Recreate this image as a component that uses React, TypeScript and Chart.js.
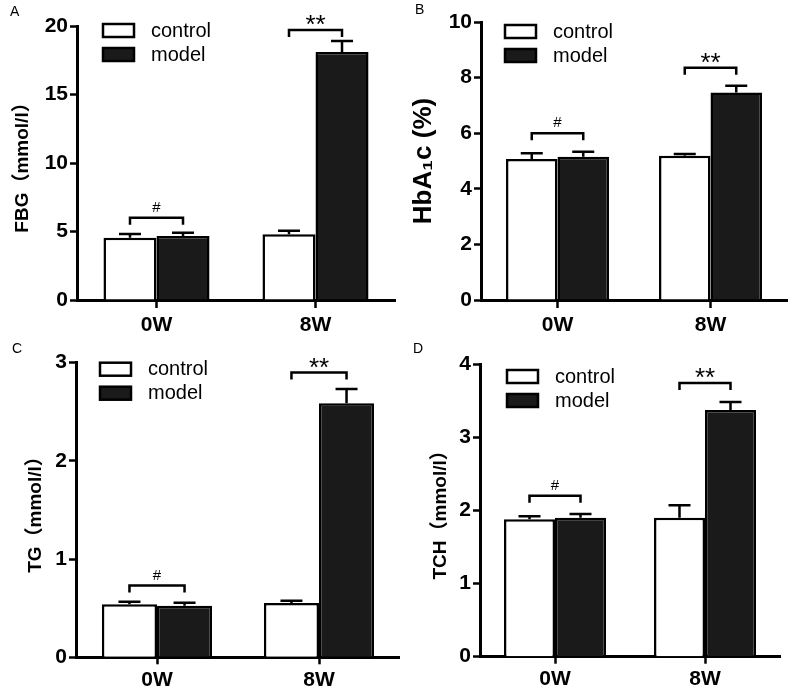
import React, { useEffect, useRef } from "react";
import { Chart, registerables } from "chart.js";

Chart.register(...registerables);

const FONT = "'Liberation Sans', Arial, 'Noto Sans CJK SC', sans-serif";

const categories = ["0W", "8W"];
const seriesNames = ["control", "model"];

// Panel A: FBG
const fbgControl = [4.55, 4.8];
const fbgModel = [4.67, 18.1];
const fbgControlErr = [0.27, 0.26];
const fbgModelErr = [0.24, 0.8];
const fbgBrackets = [6.0, 19.7];

// Panel B: HbA1c
const hbControl = [5.07, 5.19];
const hbModel = [5.15, 7.46];
const hbControlErr = [0.21, 0.06];
const hbModelErr = [0.18, 0.25];
const hbBrackets = [6.0, 8.35];

// Panel C: TG
const tgControl = [0.54, 0.553];
const tgModel = [0.525, 2.586];
const tgControlErr = [0.026, 0.023];
const tgModelErr = [0.031, 0.145];
const tgBrackets = [0.73, 2.9];

// Panel D: TCH
const tchControl = [1.88, 1.9];
const tchModel = [1.9, 3.37];
const tchControlErr = [0.04, 0.17];
const tchModelErr = [0.05, 0.11];
const tchBrackets = [2.2, 3.74];

const marks = ["#", "**"];

type PanelCfg = {
  letter: string;
  title: string;
  titleSize: number;
  titlePad: number;
  control: number[];
  model: number[];
  controlErr: number[];
  modelErr: number[];
  brackets: number[];
  yMax: number;
  step: number;
  left: number;
  top: number;
  width: number;
  height: number;
  axisW: number;
  padTop: number;
  padRight: number;
  xH: number;
  xTick: number;
  xPad: number;
  catPct: number;
  legendDx: number;
  legendDy: number;
  letterX: number;
  letterY: number;
};

const panels: PanelCfg[] = [
  {
    letter: "A", title: "FBG（mmol/l）", titleSize: 19, titlePad: 11,
    control: fbgControl, model: fbgModel, controlErr: fbgControlErr, modelErr: fbgModelErr,
    brackets: fbgBrackets, yMax: 20, step: 5,
    left: 0, top: 0, width: 400, height: 340,
    axisW: 77, padTop: 26, padRight: 5, xH: 40, xTick: 8, xPad: 5, catPct: 0.667,
    legendDx: 26, legendDy: -2, letterX: 10, letterY: 16,
  },
  {
    letter: "B", title: "HbA₁c (%)", titleSize: 26, titlePad: 8,
    control: hbControl, model: hbModel, controlErr: hbControlErr, modelErr: hbModelErr,
    brackets: hbBrackets, yMax: 10, step: 2,
    left: 400, top: 0, width: 400, height: 340,
    axisW: 81, padTop: 22, padRight: 13, xH: 40, xTick: 8, xPad: 5, catPct: 0.673,
    legendDx: 24, legendDy: 3, letterX: 15, letterY: 14,
  },
  {
    letter: "C", title: "TG（mmol/l）", titleSize: 19, titlePad: 24,
    control: tgControl, model: tgModel, controlErr: tgControlErr, modelErr: tgModelErr,
    brackets: tgBrackets, yMax: 3, step: 1,
    left: 0, top: 340, width: 400, height: 352,
    axisW: 76, padTop: 22.7, padRight: 0, xH: 34.7, xTick: 7, xPad: 3, catPct: 0.68,
    legendDx: 24, legendDy: 0, letterX: 12, letterY: 13,
  },
  {
    letter: "D", title: "TCH（mmol/l）", titleSize: 19, titlePad: 29,
    control: tchControl, model: tchModel, controlErr: tchControlErr, modelErr: tchModelErr,
    brackets: tchBrackets, yMax: 4, step: 1,
    left: 400, top: 340, width: 400, height: 352,
    axisW: 80, padTop: 24, padRight: 20, xH: 35.3, xTick: 7, xPad: 3, catPct: 0.68,
    legendDx: 27, legendDy: 6, letterX: 13, letterY: 13,
  },
];

function makePlugin(p: PanelCfg) {
  return {
    id: "extras" + p.letter,
    afterDatasetsDraw(chart: any) {
      const ctx = chart.ctx;
      const ys = chart.scales.y;
      ctx.save();
      ctx.strokeStyle = "#000";
      ctx.lineWidth = 2.5;
      ctx.lineCap = "butt";
      const vals = [p.control, p.model];
      const errs = [p.controlErr, p.modelErr];
      for (let d = 0; d < 2; d++) {
        const meta = chart.getDatasetMeta(d);
        meta.data.forEach((el: any, j: number) => {
          const x = el.x;
          const y0 = ys.getPixelForValue(vals[d][j]);
          const y1 = ys.getPixelForValue(vals[d][j] + errs[d][j]);
          ctx.beginPath();
          ctx.moveTo(x, y0);
          ctx.lineTo(x, y1);
          ctx.moveTo(x - 11, y1);
          ctx.lineTo(x + 11, y1);
          ctx.stroke();
        });
      }
      const m0 = chart.getDatasetMeta(0);
      const m1 = chart.getDatasetMeta(1);
      p.brackets.forEach((b, j) => {
        const xa = m0.data[j].x;
        const xb = m1.data[j].x;
        const yb = ys.getPixelForValue(b);
        ctx.beginPath();
        ctx.moveTo(xa, yb + 7);
        ctx.lineTo(xa, yb);
        ctx.lineTo(xb, yb);
        ctx.lineTo(xb, yb + 7);
        ctx.stroke();
        const mark = marks[j];
        ctx.fillStyle = "#000";
        ctx.textAlign = "center";
        ctx.textBaseline = "alphabetic";
        if (mark === "#") {
          ctx.font = `15px ${FONT}`;
          ctx.fillText(mark, (xa + xb) / 2, yb - 6);
        } else {
          ctx.font = `26px ${FONT}`;
          ctx.fillText(mark, (xa + xb) / 2, yb + 3);
        }
      });
      ctx.restore();
    },
    afterDraw(chart: any) {
      const ctx = chart.ctx;
      const area = chart.chartArea;
      ctx.save();
      const bx = area.left + p.legendDx;
      const by = area.top + p.legendDy;
      const fills = ["#fff", "#1a1a1a"];
      seriesNames.forEach((name, i) => {
        const y = by + i * 24;
        ctx.fillStyle = fills[i];
        ctx.fillRect(bx, y, 31, 13);
        ctx.strokeStyle = "#000";
        ctx.lineWidth = 2.5;
        ctx.strokeRect(bx, y, 31, 13);
        ctx.fillStyle = "#000";
        ctx.font = `20px ${FONT}`;
        ctx.textAlign = "left";
        ctx.textBaseline = "middle";
        ctx.fillText(name, bx + 48, y + 7);
      });
      ctx.font = `14px ${FONT}`;
      ctx.textBaseline = "alphabetic";
      ctx.fillText(p.letter, p.letterX, p.letterY);
      ctx.restore();
    },
  };
}

function Panel({ p }: { p: PanelCfg }) {
  const ref = useRef<HTMLCanvasElement>(null);
  useEffect(() => {
    const chart = new Chart(ref.current as HTMLCanvasElement, {
      type: "bar",
      data: {
        labels: categories,
        datasets: [
          {
            label: seriesNames[0],
            data: p.control,
            backgroundColor: "#ffffff",
            borderColor: "#000",
            borderWidth: 2.5,
            borderSkipped: "start",
            categoryPercentage: p.catPct,
            barPercentage: 1,
          },
          {
            label: seriesNames[1],
            data: p.model,
            backgroundColor: "#1a1a1a",
            borderColor: "#000",
            borderWidth: 2.5,
            borderSkipped: "start",
            categoryPercentage: p.catPct,
            barPercentage: 1,
          },
        ],
      },
      options: {
        responsive: false,
        animation: false,
        devicePixelRatio: 1,
        layout: { padding: { top: p.padTop, right: p.padRight, left: 0, bottom: 0 } },
        plugins: { legend: { display: false }, tooltip: { enabled: false } },
        scales: {
          x: {
            type: "category",
            offset: true,
            z: 1,
            grid: {
              display: true,
              drawOnChartArea: false,
              drawTicks: true,
              tickLength: p.xTick,
              tickWidth: 2.5,
              tickColor: "#000",
              offset: false,
            },
            border: { display: true, color: "#000", width: 3 },
            ticks: {
              color: "#000",
              font: { size: 21, weight: "bold", family: FONT },
              padding: p.xPad,
              maxRotation: 0,
            },
            afterFit: (s: any) => {
              s.height = p.xH;
            },
          },
          y: {
            min: 0,
            max: p.yMax,
            z: 1,
            ticks: {
              stepSize: p.step,
              color: "#000",
              font: { size: 21, weight: "bold", family: FONT },
              padding: 2,
            },
            grid: {
              drawOnChartArea: false,
              drawTicks: true,
              tickLength: 7,
              tickWidth: 2.5,
              tickColor: "#000",
            },
            border: { display: true, color: "#000", width: 3 },
            title: {
              display: true,
              text: p.title,
              color: "#000",
              font: { size: p.titleSize, weight: "bold", family: FONT },
              padding: { top: p.titlePad, bottom: 0 },
            },
            afterFit: (s: any) => {
              s.width = p.axisW;
            },
          },
        },
      } as any,
      plugins: [makePlugin(p)],
    });
    return () => chart.destroy();
  }, []);
  return (
    <div style={{ position: "absolute", left: p.left, top: p.top, width: p.width, height: p.height }}>
      <canvas
        ref={ref}
        width={p.width}
        height={p.height}
        style={{ width: p.width, height: p.height, display: "block" }}
      />
    </div>
  );
}

export default function App() {
  return (
    <div style={{ position: "absolute", left: 0, top: 0, width: 800, height: 692, background: "#fff" }}>
      {panels.map((p) => (
        <Panel key={p.letter} p={p} />
      ))}
    </div>
  );
}
